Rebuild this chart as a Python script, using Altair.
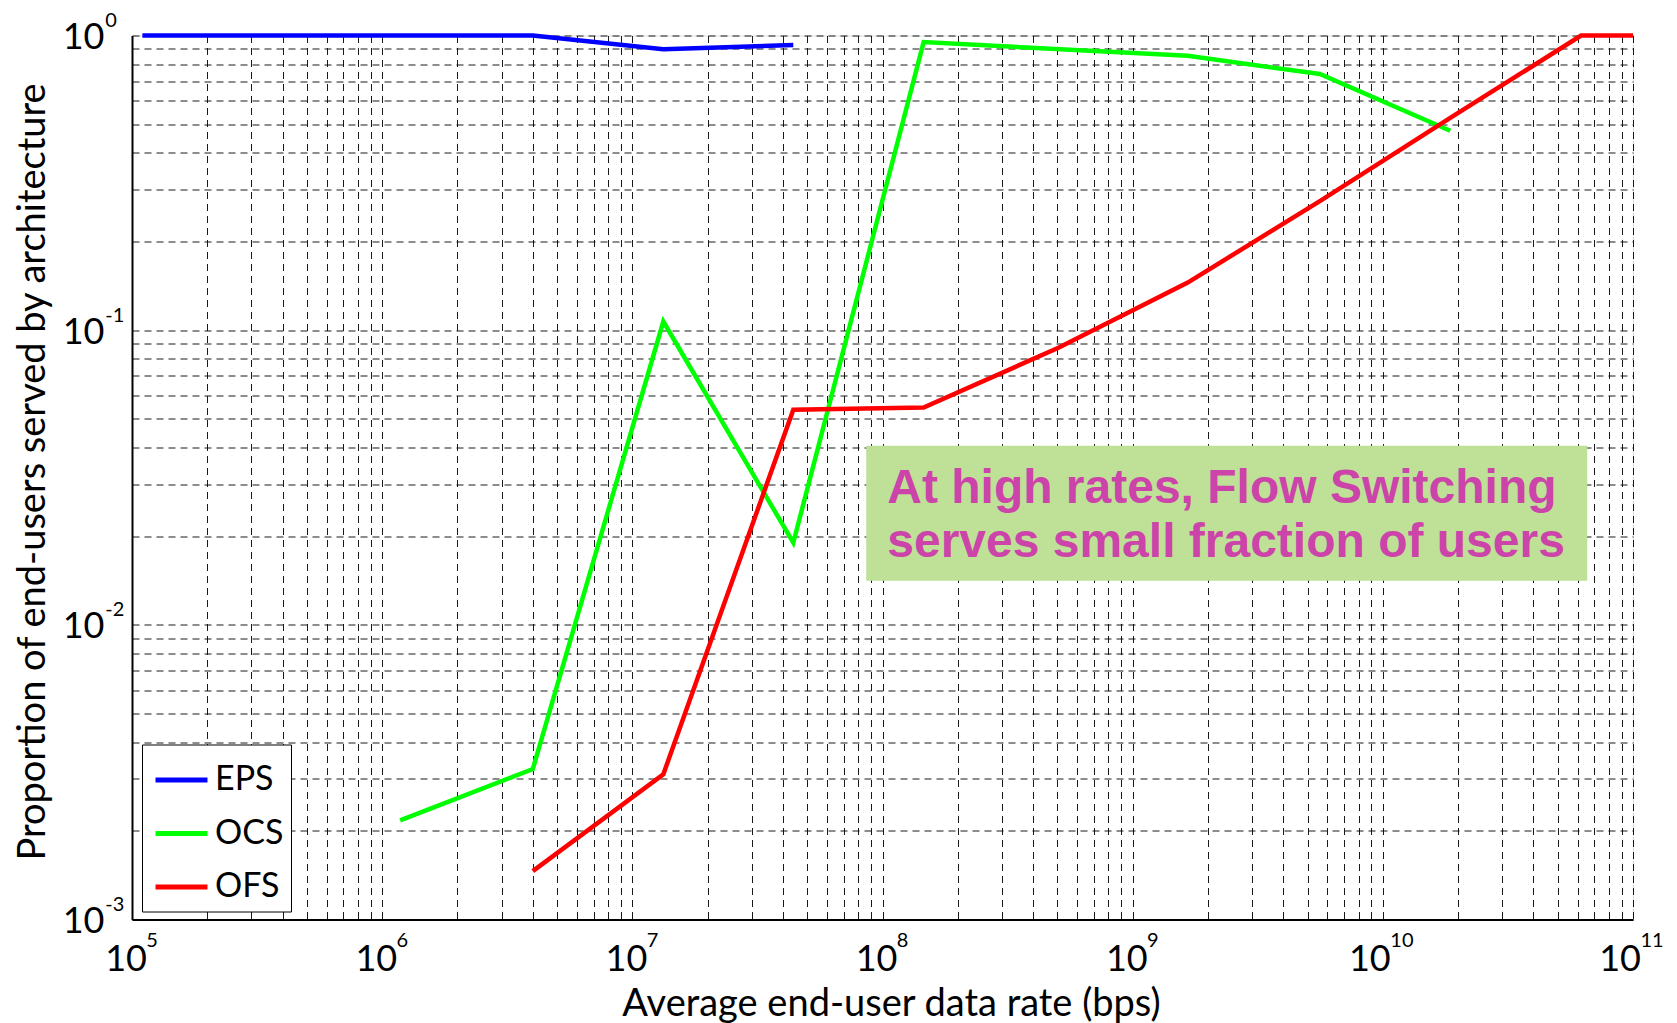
import altair as alt
import pandas as pd

# ---- data ----
EPS_X = [1.1e5, 4.0e6, 1.33e7, 4.4e7]
EPS_Y = [1.0, 1.0, 0.898, 0.929]

OCS_X = [1.18e6, 4.0e6, 1.33e7, 4.4e7, 1.46e8, 1.66e9, 5.6e9, 1.86e10]
OCS_Y = [0.00217, 0.00324, 0.107, 0.019, 0.95, 0.853, 0.74, 0.475]

OFS_X = [4.0e6, 1.33e7, 4.4e7, 1.46e8, 5.05e8, 1.66e9, 5.6e9, 1.86e10, 6.2e10, 1.0e11]
OFS_Y = [0.00146, 0.00311, 0.0537, 0.0546, 0.0872, 0.145, 0.274, 0.525, 1.0, 1.0]

SERIES = ["EPS", "OCS", "OFS"]
COLORS = ["#0000ff", "#00ff00", "#ff0000"]

# tick labels: mantissa "10" on the axis, exponent drawn as superscript
X_MAJOR = [1e5, 1e6, 1e7, 1e8, 1e9, 1e10, 1e11]
X_EXP = ["5", "6", "7", "8", "9", "10", "11"]
Y_MAJOR = [1e-3, 1e-2, 1e-1, 1.0]
Y_EXP = ["-3", "-2", "-1", "0"]
X_DOMAIN = [1e5, 1e11]
Y_DOMAIN = [1e-3, 1.0]

ANNOT_X = [8.61e7, 6.56e10]
ANNOT_Y = [0.0141, 0.0405]
ANNOT_TEXT_Y = 0.026
ANNOT_TEXT = ["At high rates, Flow Switching", "serves small fraction of users"]

X_TITLE = "Average end-user data rate (bps)"
Y_TITLE = "Proportion of end-users served by architecture"

# ---- tables ----
rows = []
for name, xs, ys in [("EPS", EPS_X, EPS_Y), ("OCS", OCS_X, OCS_Y), ("OFS", OFS_X, OFS_Y)]:
    for i, (x, y) in enumerate(zip(xs, ys)):
        rows.append({"series": name, "rate": x, "prop": y, "order": i})
df = pd.DataFrame(rows)

annot_box = pd.DataFrame([{"x0": ANNOT_X[0], "x1": ANNOT_X[1], "y0": ANNOT_Y[0], "y1": ANNOT_Y[1]}])
annot_txt = alt.Data(values=[{"x": ANNOT_X[0], "y": ANNOT_TEXT_Y, "t": ANNOT_TEXT}])

x_exp_1 = pd.DataFrame([{"x": v, "y": Y_DOMAIN[0], "e": e} for v, e in zip(X_MAJOR, X_EXP) if len(e) == 1])
x_exp_2 = pd.DataFrame([{"x": v, "y": Y_DOMAIN[0], "e": e} for v, e in zip(X_MAJOR, X_EXP) if len(e) == 2])
y_exp = pd.DataFrame([{"x": X_DOMAIN[0], "y": v, "e": e} for v, e in zip(Y_MAJOR, Y_EXP)])

# tick positions (majors + minors for the log grid)
x_ticks = [m * 10.0 ** e for e in range(5, 11) for m in range(1, 10)] + [1e11]
y_ticks = [m * 10.0 ** e for e in range(-3, 0) for m in range(1, 10)] + [1.0]


def label_expr(values):
    parts = [f"abs(datum.value - {v!r}) < {v!r} * 1e-6" for v in values]
    return "(" + " || ".join(parts) + ") ? '10' : ''"


FONT = "Lato"
EXP_SIZE = 20

x_scale = alt.Scale(type="log", domain=X_DOMAIN, nice=False)
y_scale = alt.Scale(type="log", domain=Y_DOMAIN, nice=False)

grid_kw = dict(grid=True, gridDash=[7, 5], gridColor="black", gridOpacity=1, gridWidth=0.9)

x_axis = alt.Axis(
    values=x_ticks, labelExpr=label_expr(X_MAJOR), **grid_kw,
    ticks=False, domainColor="black", domainWidth=2,
    labelFont=FONT, labelFontSize=36, labelColor="black", labelPadding=40,
    labelBaseline="middle", labelAlign="center",
    labelOffset={"expr": "datum.value >= 1e10 ? -13.5 : -6.4"},
    labelFlush=False, labelOverlap=False,
    title=X_TITLE, titleFont=FONT, titleFontSize=38,
    titleFontWeight="normal", titleColor="black",
    titleX=759, titleY=96, titleBaseline="alphabetic", titleAlign="center",
)
y_axis = alt.Axis(
    values=y_ticks, labelExpr=label_expr(Y_MAJOR), **grid_kw,
    ticks=False, domainColor="black", domainWidth=2,
    labelFont=FONT, labelFontSize=36, labelColor="black", labelPadding=28,
    labelFlush=False, labelOverlap=False, labelAlign="right", labelBaseline="middle",
    labelOffset=2,
    title=Y_TITLE, titleFont=FONT, titleFontSize=38,
    titleFontWeight="normal", titleColor="black",
    titleX=-88, titleY=436, titleBaseline="alphabetic", titleAlign="center", titleAngle=-90,
)

box = alt.Chart(annot_box).mark_rect(color="#bee097").encode(
    x=alt.X("x0:Q", scale=x_scale, axis=x_axis),
    x2="x1:Q",
    y=alt.Y("y0:Q", scale=y_scale, axis=y_axis),
    y2="y1:Q",
)

text = alt.Chart(annot_txt).mark_text(
    font="Liberation Sans", fontWeight="bold", fontSize=48, color="#cc44aa",
    align="left", baseline="alphabetic", dx=21, lineHeight=54.5,
).encode(
    x=alt.X("x:Q", scale=x_scale),
    y=alt.Y("y:Q", scale=y_scale),
    text="t:N",
)


def exp_layer(data, dx, dy):
    return alt.Chart(data).mark_text(
        font=FONT, fontSize=EXP_SIZE, color="black", align="left", baseline="middle",
        dx=dx, dy=dy,
    ).encode(
        x=alt.X("x:Q", scale=x_scale),
        y=alt.Y("y:Q", scale=y_scale),
        text="e:N",
    )


xe1 = exp_layer(x_exp_1, 14.3, 21.5)
xe2 = exp_layer(x_exp_2, 7.5, 21.5)
ye = exp_layer(y_exp, -26.7, -14.5)

lines = alt.Chart(df).mark_line(strokeWidth=4.5).encode(
    x=alt.X("rate:Q", scale=x_scale),
    y=alt.Y("prop:Q", scale=y_scale),
    order="order:Q",
    color=alt.Color(
        "series:N",
        scale=alt.Scale(domain=SERIES, range=COLORS),
        sort=SERIES,
        legend=alt.Legend(
            title=None, orient="none", legendX=10, legendY=709,
            symbolType="stroke", symbolSize=2700, symbolStrokeWidth=5,
            symbolOffset=4, labelOffset=5,
            labelFont=FONT, labelFontSize=34, labelColor="black",
            rowPadding=7.5, padding=7,
            strokeColor="black", fillColor="white",
        ),
    ),
)

chart = alt.layer(box, text, xe1, xe2, ye, lines).properties(
    width=1501, height=884,
    autosize=alt.AutoSizeParams(type="none"),
    padding={"left": 124, "top": 27.5, "right": 36, "bottom": 103},
).configure_view(stroke="black", strokeWidth=2).configure(background="white")

chart.save("out.html", embed_options={"renderer": "svg", "actions": False})
